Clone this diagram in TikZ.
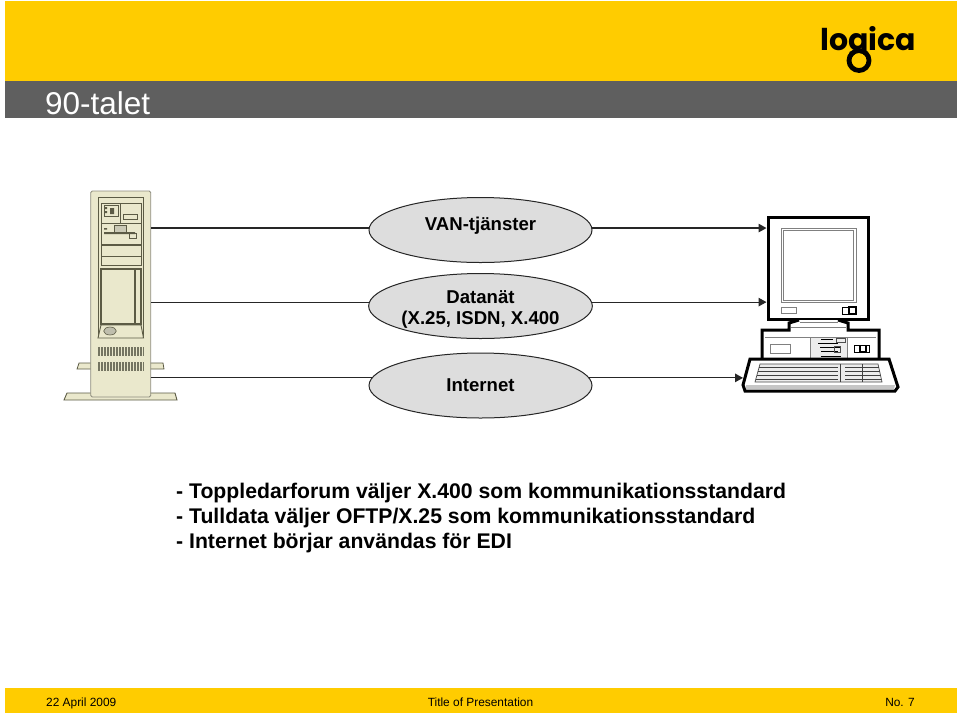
\documentclass[tikz,border=0pt]{standalone}
\usepackage{fontspec}
\setmainfont{Liberation Sans}
\newfontfamily\logofont{Poppins}
\usetikzlibrary{arrows.meta, shapes.geometric}
\definecolor{logicayellow}{HTML}{FFCC00}
\definecolor{bargray}{HTML}{5F5F5F}
\definecolor{towerbeige}{HTML}{EAE8CC}
\definecolor{towerline}{HTML}{5C5B45}
\definecolor{netgray}{HTML}{DDDDDD}
\tikzset{
  netcloud/.style={draw=black!85, fill=netgray, ellipse, line width=1pt, inner sep=0pt,
    minimum width=223pt, minimum height=65pt, align=center, font=\bfseries\fontsize{18.6}{21}\selectfont},
  link/.style={draw=black!85, line width=1.2pt},
  towerpart/.style={draw=towerline, fill=towerbeige, line width=0.9pt},
  towervent/.style={draw=towerline!85, line width=0.75pt},
  termline/.style={draw=black, line width=0.7pt},
  termheavy/.style={draw=black, fill=white, line width=3pt, line join=miter},
  footnote/.style={inner sep=0pt, font=\fontsize{11.9}{15}\selectfont},
}
\begin{document}
\begin{tikzpicture}[>={Triangle[length=8pt,width=8.5pt]},x=1pt,y=-1pt]
    \useasboundingbox (0,0) rectangle (960,716);
    \fill[logicayellow] (5,1) rectangle (957,81);
    \fill[bargray] (5,81) rectangle (957,118);
    \fill[logicayellow] (5,688) rectangle (957,713);

    \draw (45,103) node[anchor=west, inner sep=0pt, text=white, font=\fontsize{31.5}{36}\selectfont] (title) {90-talet};
    \draw (868,50.5) node[anchor=base, inner sep=0pt, font=\logofont\bfseries\fontsize{30}{32}\selectfont] (logo) {logica};
    \fill[logicayellow] (859,60.5) circle (7.5);
    \draw[line width=4.8pt] (859,60.5) circle (10);

    % server
    \fill[towerbeige, draw=towerline, line width=0.9pt] (64,400) -- (67,393) -- (175,393) -- (177,400) -- cycle;
    \fill[towerbeige, draw=towerline, line width=0.8pt] (77,369) -- (79,363) -- (163,363) -- (164,369) -- cycle;
    \draw (120.7,294) node[draw=towerline!70, fill=towerbeige, line width=0.9pt, rounded corners=1.5pt, minimum width=60pt, minimum height=206pt, inner sep=0pt] (tower) {};
    \draw[towerpart] (98,197) rectangle (143,337);
    \draw[towerpart] (101,203) rectangle (141,223);
    \draw[towerpart] (120.7,203) -- (120.7,223);
    \draw[towerline, line width=0.8pt] (104,205) rectangle (118,216);
    \fill[towerline] (104,207) rectangle (107,209) (104,211) rectangle (107,213) (110,208) rectangle (114,214);
    \draw[towerline, line width=0.8pt] (123,214) rectangle (137,219);
    \draw[towerpart] (101,223) rectangle (141,244);
    \draw[towerline, fill=towerbeige!70!gray, line width=0.6pt] (114,225) rectangle (126,232);
    \fill[towerline] (104,232) rectangle (135,234) (104,228) rectangle (107,229.5);
    \draw[towerline, line width=0.8pt] (129,233) rectangle (136,238);
    \draw[towerpart] (101,245) rectangle (141,265);
    \draw[towerline, line width=0.8pt] (101,256) -- (141,256);
    \draw[towerpart, line width=1.2pt] (101,269) rectangle (141,324);
    \draw[towerline, line width=1.2pt] (135,269) -- (135,324);
    \draw[towerpart] (101,325) -- (141,325) -- (143.5,338) -- (98,338) -- cycle;
    \draw[towerline, fill=towerbeige!60!gray, line width=0.6pt] (110,331) ellipse (6.3 and 4);
    \foreach \x in {98,99.5,...,144} {
        \draw[towervent] (\x,347) -- (\x,356);
        \draw[towervent] (\x,362) -- (\x,370.5);
    }

    % terminal
    \draw (818,268) node[termheavy, minimum width=100pt, minimum height=102pt, inner sep=0pt] (monitor) {};
    \draw[draw=gray, line width=0.9pt] (781,228) rectangle (856,302);
    \draw[draw=gray, line width=0.9pt] (783.5,230.5) rectangle (853.5,300);
    \draw[draw=gray, line width=0.9pt] (781,307) rectangle (796,313);
    \draw[termline] (842,307) rectangle (856,314);
    \draw[draw=black, line width=1.2pt] (849,307) rectangle (856,314);
    \draw[termheavy] (799,320) -- (789,323) -- (789,330) -- (762,330) -- (762,360) -- (879,360) -- (879,330) -- (848,330) -- (848,323) -- (838,320);
    \draw[draw=gray, line width=0.7pt] (800,322) -- (838,322) (791,327) -- (846,327);
    \draw[draw=gray, line width=0.7pt] (765,337) -- (876,337);
    \draw[draw=gray, line width=0.9pt] (770,344) rectangle (790,353);
    \draw[termline] (854,345) rectangle (869,352);
    \draw[draw=black, line width=1.2pt] (860,345.5) rectangle (866,351.5);
    \draw[draw=gray, fill=gray!15, line width=0.6pt] (810,337) rectangle (847,359);
    \foreach \y/\a/\b in {339/821/833, 343/818/838, 347/820/840, 351/821/838, 356/821/841} {
        \draw[draw=black, line width=1pt] (\a,\y) -- (\b,\y);
    }
    \draw[draw=black!70, line width=0.7pt] (836,338) rectangle (845,342) (834,346) rectangle (840,352);
    \draw[termheavy] (750,359) -- (889,359) -- (898,387) -- (895,391) -- (745,391) -- (743,385) -- cycle;
    \fill[gray!45] (746,385) -- (895,385) -- (894,389) -- (746,389) -- cycle;
    \draw[draw=black!70, fill=gray!15, line width=0.7pt] (760,364) -- (878,364) -- (882,382) -- (755,382) -- cycle;
    \foreach \y/\a/\b in {367/759/838, 371/758/838, 375/757/838, 379/756/838, 367/845/879, 371/845/880, 375/845/881, 379/845/881} {
        \draw[draw=black!75, line width=0.7pt] (\a,\y) -- (\b,\y);
    }
    \draw[draw=black!75, line width=1pt] (840,364) -- (840,382) (862,364) -- (862,382);

    % networks
    \draw (480.5,230) node[netcloud, text depth=12pt] (van) {VAN-tjänster};
    \draw (480.5,306) node[netcloud] (datanat) {\rule{0pt}{20pt}Datanät\\(X.25, ISDN, X.400};
    \draw (480.5,385.5) node[netcloud] (internet) {Internet};

    \coordinate (kbd) at (743,378);
    \draw[link] (tower.east |- van.179) -- (van.179);
    \draw[link] (tower.east |- datanat.178.4) -- (datanat.178.4);
    \draw[link] (tower.east |- internet.176) -- (internet.176);
    \draw[link, ->] (van.1) -- (van.1 -| monitor.west);
    \draw[link, ->] (datanat.2) -- (datanat.2 -| monitor.west);
    \draw[link, ->] (internet.4) -- (internet.4 -| kbd);

    \draw (176,518) node[anchor=west, inner sep=0pt, align=left, font=\bfseries\fontsize{21.2}{25.3}\selectfont] (notes) {- Toppledarforum väljer X.400 som kommunikationsstandard\\- Tulldata väljer OFTP/X.25 som kommunikationsstandard\\- Internet börjar användas för EDI};

    \draw (46,706) node[anchor=base west, footnote] (date) {22 April 2009};
    \draw (480.5,706) node[anchor=base, footnote] (footer) {Title of Presentation};
    \draw (915,706) node[anchor=base east, footnote] (pageno) {No. 7};
\end{tikzpicture}
\end{document}
